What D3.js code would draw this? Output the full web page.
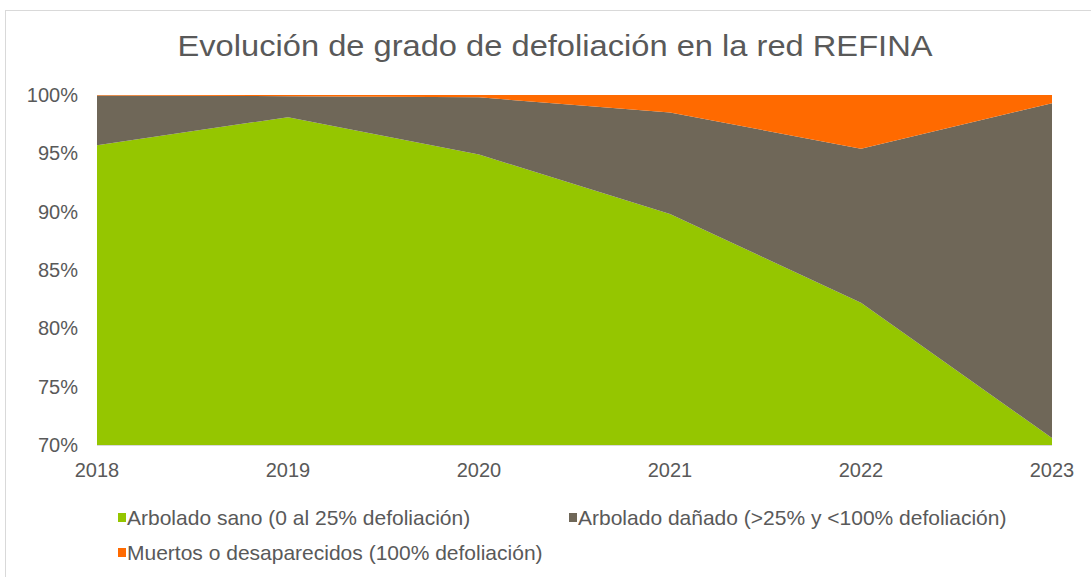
<!DOCTYPE html>
<html><head><meta charset="utf-8">
<script src="https://cdn.jsdelivr.net/npm/d3@7"></script>
<style>
body{margin:0;background:#fff;}
svg{display:block;font-family:"Liberation Sans",Arial,sans-serif;}
</style></head>
<body><svg id="c" width="1091" height="577"></svg>
<script>
const years = ["2018","2019","2020","2021","2022","2023"];
const sano = [95.7, 98.1, 94.9, 89.8, 82.2, 70.6];
const danado = [4.25, 1.8, 4.9, 8.7, 13.2, 28.7];
const muertos = [0.05, 0.1, 0.2, 1.5, 4.6, 0.7];
const seriesNames = ["Arbolado sano (0 al 25% defoliación)", "Arbolado dañado (>25% y <100% defoliación)", "Muertos o desaparecidos (100% defoliación)"];
const colors = ["#95c600", "#6f6758", "#ff6a00"];
const yTicks = [70, 75, 80, 85, 90, 95, 100];
const title = "Evolución de grado de defoliación en la red REFINA";

const svg = d3.select("#c");
const m = {l: 97, r: 1052, t: 95, b: 445};

svg.append("rect").attr("x", 5.5).attr("y", 10.5).attr("width", 1091).attr("height", 580)
  .attr("fill", "#fff").attr("stroke", "#d9d9d9");

const x = d3.scalePoint().domain(years).range([m.l, m.r]);
const y = d3.scaleLinear().domain([70, 100]).range([m.b, m.t]);

const rows = years.map((yr, i) => ({year: yr, s: sano[i], d: danado[i], m: muertos[i]}));
const stack = d3.stack().keys(["s", "d", "m"]);
const layers = stack(rows);

svg.append("clipPath").attr("id", "clip").append("rect")
  .attr("x", m.l).attr("y", m.t).attr("width", m.r - m.l).attr("height", m.b - m.t);

const area = d3.area().x(d => x(d.data.year)).y0(d => y(d[0])).y1(d => y(d[1]));
svg.append("g").attr("clip-path", "url(#clip)").selectAll("path").data(layers).join("path")
  .attr("d", area).attr("fill", (d, i) => colors[i]);

// x axis line
svg.append("line").attr("x1", m.l).attr("x2", m.r).attr("y1", m.b + 0.5).attr("y2", m.b + 0.5)
  .attr("stroke", "#d9d9d9").attr("stroke-width", 1);

// y tick labels
svg.append("g").selectAll("text").data(yTicks).join("text")
  .attr("x", 78).attr("y", d => y(d)).attr("dy", "0.35em").attr("text-anchor", "end")
  .attr("fill", "#595959").attr("font-size", 20).text(d => d + "%");

// x tick labels
svg.append("g").selectAll("text").data(years).join("text")
  .attr("x", d => x(d)).attr("y", 477).attr("text-anchor", "middle")
  .attr("fill", "#595959").attr("font-size", 20).text(d => d);

// title
svg.append("text").attr("x", 555).attr("y", 56).attr("text-anchor", "middle")
  .attr("fill", "#595959").attr("font-size", 30).attr("textLength", 755)
  .attr("lengthAdjust", "spacingAndGlyphs").text(title);

// legend
const legPos = [[118, 517], [569, 517], [118, 552]];
const lg = svg.append("g").selectAll("g").data(seriesNames).join("g")
  .attr("transform", (d, i) => `translate(${legPos[i][0]},${legPos[i][1]})`);
lg.append("rect").attr("x", 0).attr("y", -4).attr("width", 8).attr("height", 9)
  .attr("fill", (d, i) => colors[i]);
lg.append("text").attr("x", 9).attr("y", 0).attr("dy", "0.36em")
  .attr("fill", "#595959").attr("font-size", 21).text(d => d);
</script></body></html>
